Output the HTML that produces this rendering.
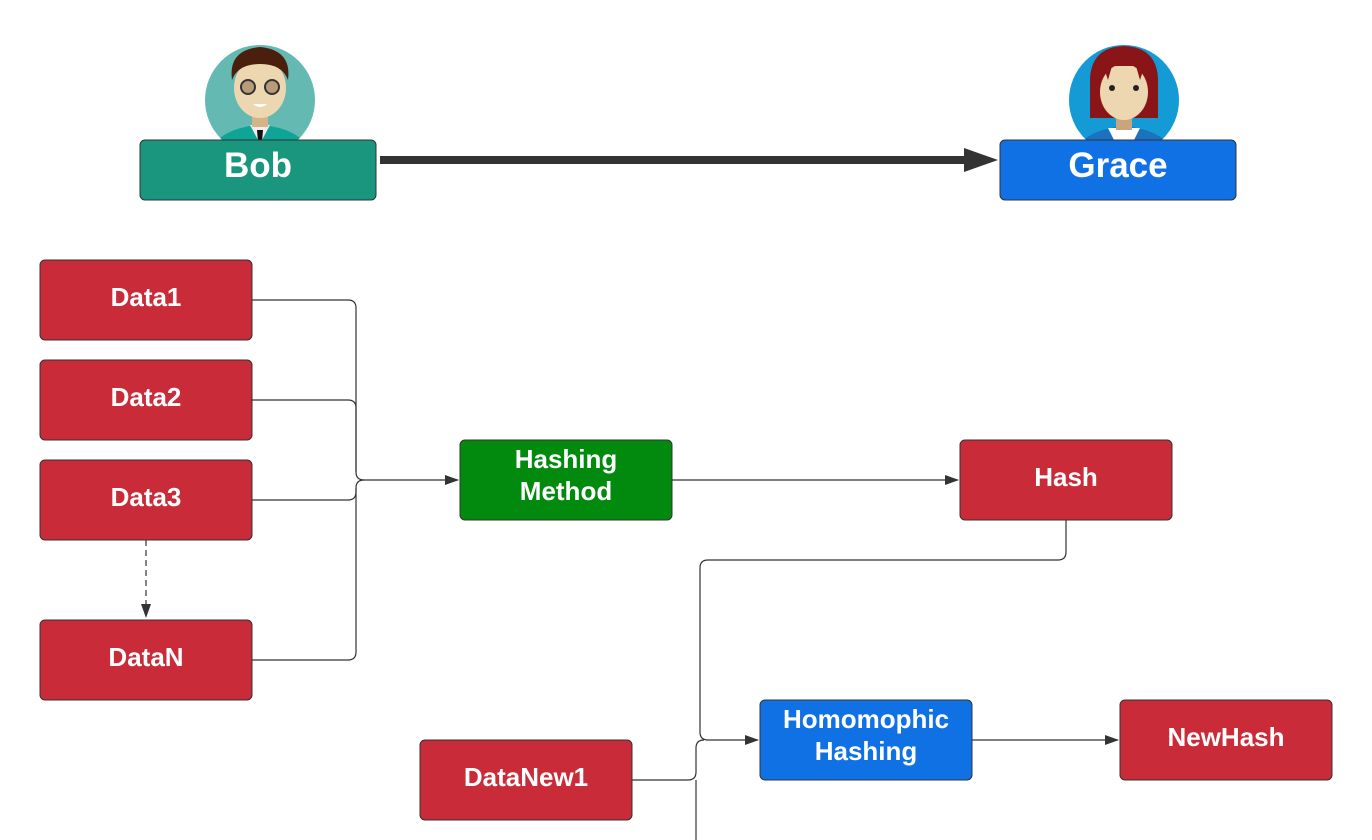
<!DOCTYPE html>
<html><head><style>
body{margin:0;background:#fff;}
svg{display:block;font-family:"Liberation Sans",sans-serif;}
</style></head><body>
<svg width="1372" height="840" viewBox="0 0 1372 840" xmlns="http://www.w3.org/2000/svg">
<defs>
<marker id="a" markerWidth="14" markerHeight="10" refX="13" refY="5" orient="auto" markerUnits="userSpaceOnUse"><path d="M0,0L14,5L0,10z" fill="#333"/></marker>
<clipPath id="cb"><circle cx="260" cy="100" r="55"/></clipPath>
<clipPath id="cg"><circle cx="1124" cy="100" r="55"/></clipPath>
</defs>
<!-- Bob avatar -->
<circle cx="260" cy="100" r="55" fill="#64b9b3"/>
<g clip-path="url(#cb)">
<path d="M205,160 Q215,128 260,125 Q305,128 315,160z" fill="#0fa596"/>
<path d="M250,125 L270,125 L262,140 L258,140z" fill="#eee"/>
<path d="M257,130 L263,130 L262,142 L258,142z" fill="#111"/>
</g>
<rect x="252" y="105" width="16" height="22" fill="#d6b48a"/>
<ellipse cx="260" cy="88" rx="26" ry="30" fill="#ecd7b0"/>
<path d="M232,80 Q228,50 260,47 Q292,50 288,80 Q282,64 260,64 Q238,64 232,80z" fill="#4a1f0e"/>
<circle cx="248" cy="87" r="7" fill="#b89c7a" stroke="#333" stroke-width="2"/>
<circle cx="272" cy="87" r="7" fill="#b89c7a" stroke="#333" stroke-width="2"/>
<path d="M253,104 Q260,110 267,104z" fill="#fff"/>
<!-- Grace avatar -->
<circle cx="1124" cy="100" r="55" fill="#149bd6"/>
<g clip-path="url(#cg)">
<path d="M1069,160 Q1080,130 1124,126 Q1168,130 1179,160z" fill="#1b73c0"/>
<path d="M1108,128 L1140,128 L1134,140 L1114,140z" fill="#fff"/>
</g>
<path d="M1090,118 L1090,78 Q1092,47 1124,46 Q1156,47 1158,78 L1158,118z" fill="#891518"/>
<rect x="1116" y="110" width="16" height="20" fill="#c9a57e"/>
<ellipse cx="1124" cy="92" rx="24" ry="28" fill="#ecd7b0"/>
<path d="M1098,82 L1098,66 Q1124,52 1150,66 L1150,82 L1144,68 L1140,80 L1136,66 L1112,66 L1108,80 L1104,68z" fill="#891518"/>
<circle cx="1112" cy="88" r="3" fill="#222"/><circle cx="1136" cy="88" r="3" fill="#222"/>
<!-- Bob / Grace -->
<rect x="140" y="140" width="236" height="60" rx="5" fill="#1a967e" stroke="#333" stroke-width="1"/>
<text x="258" y="177" font-size="35" font-weight="bold" fill="#fff" text-anchor="middle">Bob</text>
<rect x="1000" y="140" width="236" height="60" rx="5" fill="#1071e5" stroke="#333" stroke-width="1"/>
<text x="1118" y="177" font-size="35" font-weight="bold" fill="#fff" text-anchor="middle">Grace</text>
<line x1="380" y1="160" x2="970" y2="160" stroke="#333" stroke-width="8"/>
<path d="M964,148 L998,160 L964,172z" fill="#333"/>
<!-- connectors -->
<g fill="none" stroke="#333" stroke-width="1.2">
<path d="M252,300 H348 Q356,300 356,308 V472 Q356,480 364,480 H458" marker-end="url(#a)"/>
<path d="M252,400 H348 Q356,400 356,408 V472"/>
<path d="M252,500 H348 Q356,500 356,492 V488"/>
<path d="M252,660 H348 Q356,660 356,652 V488 Q356,480 364,480"/>
<path d="M672,480 H958" marker-end="url(#a)"/>
<path d="M1066,520 V552 Q1066,560 1058,560 H708 Q700,560 700,568 V732 Q700,740 708,740 H758" marker-end="url(#a)"/>
<path d="M632,780 H688 Q696,780 696,772 V748 Q696,740 704,740"/>
<path d="M696,780 V840"/>
<path d="M972,740 H1118" marker-end="url(#a)"/>
<path d="M146,540 V606" stroke-dasharray="6,4"/>
</g>
<path d="M141,604 L146,618 L151,604z" fill="#333"/>
<!-- nodes -->
<g stroke="#333" stroke-width="1">
<rect x="40" y="260" width="212" height="80" rx="5" fill="#c92b38"/>
<rect x="40" y="360" width="212" height="80" rx="5" fill="#c92b38"/>
<rect x="40" y="460" width="212" height="80" rx="5" fill="#c92b38"/>
<rect x="40" y="620" width="212" height="80" rx="5" fill="#c92b38"/>
<rect x="460" y="440" width="212" height="80" rx="5" fill="#028a0f"/>
<rect x="960" y="440" width="212" height="80" rx="5" fill="#c92b38"/>
<rect x="760" y="700" width="212" height="80" rx="5" fill="#1071e5"/>
<rect x="1120" y="700" width="212" height="80" rx="5" fill="#c92b38"/>
<rect x="420" y="740" width="212" height="80" rx="5" fill="#c92b38"/>
</g>
<g font-size="26" font-weight="bold" fill="#fff" text-anchor="middle">
<text x="146" y="306">Data1</text>
<text x="146" y="406">Data2</text>
<text x="146" y="506">Data3</text>
<text x="146" y="666">DataN</text>
<text x="566" y="468">Hashing</text>
<text x="566" y="500">Method</text>
<text x="1066" y="486">Hash</text>
<text x="866" y="728">Homomophic</text>
<text x="866" y="760">Hashing</text>
<text x="1226" y="746">NewHash</text>
<text x="526" y="786">DataNew1</text>
</g>
</svg>
</body></html>
